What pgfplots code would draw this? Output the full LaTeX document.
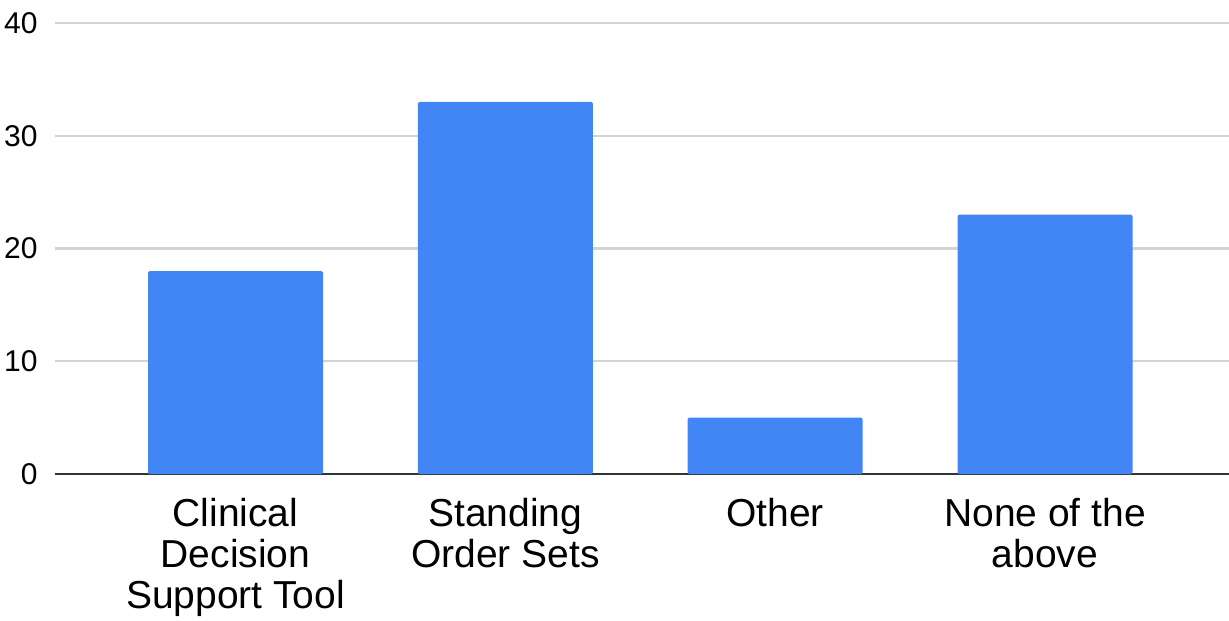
\documentclass[border=0pt]{standalone}
\usepackage{pgfplots}
\pgfplotsset{compat=1.18}
\usepackage{fontspec}
\setmainfont{Liberation Sans}
\definecolor{barblue}{HTML}{4285F4}
\definecolor{gridgray}{HTML}{D3D3D3}
\definecolor{axisgray}{HTML}{333333}
\begin{document}
\begin{tikzpicture}
\useasboundingbox (-27.5pt,-73pt) rectangle (587pt,237pt);
\begin{axis}[
  at={(0,0)}, anchor=south west,
  width=587pt, height=225.5pt, scale only axis,
  ybar, bar width=87.5pt,
  xmin=-0.669, xmax=3.682,
  ymin=0, ymax=40,
  ytick={0,10,20,30,40},
  xtick={0,1,2,3},
  xticklabels={{Clinical\\Decision\\Support Tool},{Standing\\Order Sets},{Other},{None of the\\above}},
  axis lines*=left,
  y axis line style={draw=none},
  x axis line style={-, draw=axisgray, line width=1pt},
  ymajorgrids, grid style={gridgray, line width=1.1pt},
  major tick length=0pt,
  tick style={draw=none},
  /pgf/number format/assume math mode=true,
  yticklabel style={anchor=east, inner sep=0pt, xshift=-8.5pt, font=\fontsize{15}{18}\selectfont},
  xticklabel style={anchor=north, inner sep=0pt, yshift=-12pt, align=center, font=\fontsize{19.5}{20.5}\selectfont},
]
\addplot[fill=barblue, draw=none, rounded corners=1pt] coordinates {(0,18) (1,33) (2,5) (3,23)};
\end{axis}
\end{tikzpicture}
\end{document}
